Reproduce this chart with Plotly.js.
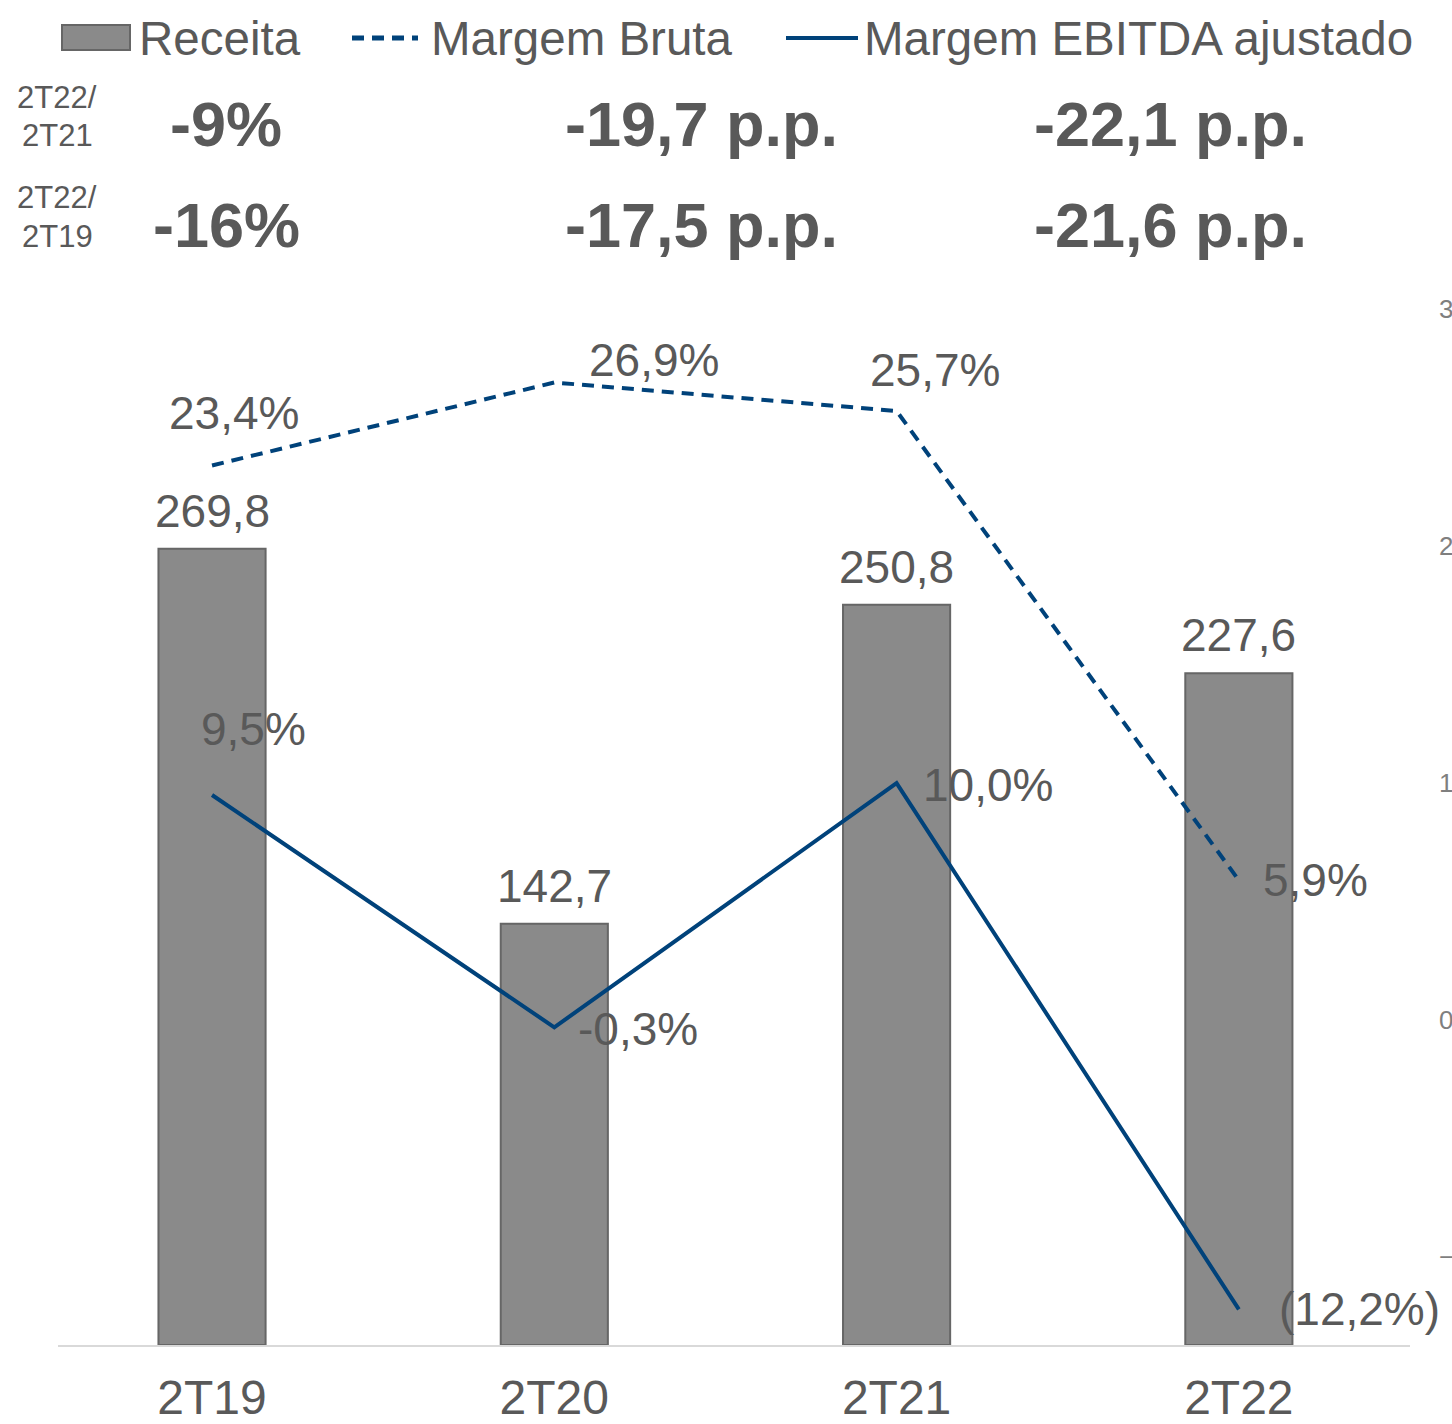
<!DOCTYPE html>
<html>
<head>
<meta charset="utf-8">
<script src="https://cdn.plot.ly/plotly-3.0.1.min.js"></script>
<style>
    html, body { margin: 0; padding: 0; background: #ffffff; }
    #chart { width: 1452px; height: 1424px; }
</style>
</head>
<body>
<div id="chart"></div>
<script>
// dados
let trimestres = ['2T19', '2T20', '2T21', '2T22'];
let receita = [269.8, 142.7, 250.8, 227.6];
let margemBruta = [23.4, 26.9, 25.7, 5.9];
let margemEbitda = [9.5, -0.3, 10.0, -12.2];
let ebitdaLabels = ['9,5%', '-0,3%', '10,0%', '(12,2%)'];

let compLabels = ['2T22/<br>2T21', '2T22/<br>2T19'];
let compReceita = ['-9%', '-16%'];
let compBruta = ['-19,7 p.p.', '-17,5 p.p.'];
let compEbitda = ['-22,1 p.p.', '-21,6 p.p.'];

const grey = '#595959';
const blue = '#00427a';
const font = 'Liberation Sans, Arial, sans-serif';

// plot area in pixels: x 58..1410, y 309..1345
const px = (p) => (p - 58) / 1352;
const py = (p) => (1345 - p) / 1036;

const fmt = (v) => v.toFixed(1).replace('.', ',');

let traces = [
    {
        x: trimestres,
        y: receita,
        name: 'Receita',
        type: 'bar',
        width: 0.313,
        marker: {color: '#8a8a8a', line: {color: '#666666', width: 2}},
        hoverinfo: 'none',
    },
    {
        x: trimestres,
        y: margemBruta,
        name: 'Margem Bruta',
        type: 'scatter',
        mode: 'lines',
        yaxis: 'y2',
        line: {color: blue, width: 4, dash: '12px,8px'},
        hoverinfo: 'none',
    },
    {
        x: trimestres,
        y: margemEbitda,
        name: 'Margem EBITDA ajustado',
        type: 'scatter',
        mode: 'lines',
        yaxis: 'y2',
        line: {color: blue, width: 4},
        hoverinfo: 'none',
    },
];

let annotations = [];

// rótulos das barras
receita.forEach((v, i) => {
    annotations.push({
        x: trimestres[i], y: v, xref: 'x', yref: 'y',
        text: fmt(v), showarrow: false,
        yanchor: 'middle', yshift: 38,
        font: {family: font, size: 46, color: grey},
    });
});

// rótulos margem bruta
let brutaShift = [[22, 52], [100, 22], [38, 41], [77, 0]];
margemBruta.forEach((v, i) => {
    annotations.push({
        x: trimestres[i], y: v, xref: 'x', yref: 'y2',
        text: fmt(v) + '%', showarrow: false,
        xshift: brutaShift[i][0], yshift: brutaShift[i][1],
        font: {family: font, size: 46, color: grey},
    });
});

// rótulos margem ebitda
let ebitdaShift = [[41, 66], [84, -2], [91, -2], [121, 0]];
margemEbitda.forEach((v, i) => {
    annotations.push({
        x: trimestres[i], y: v, xref: 'x', yref: 'y2',
        text: ebitdaLabels[i], showarrow: false,
        xshift: ebitdaShift[i][0], yshift: ebitdaShift[i][1],
        font: {family: font, size: 46, color: grey},
    });
});

// comparações no topo
let rowY = [[98, 136, 127], [198, 237, 228]];
compLabels.forEach((lbl, r) => {
    lbl.split('<br>').forEach((part, k) => {
        annotations.push({
            xref: 'paper', yref: 'paper', x: px(57), y: py(rowY[r][k]),
            text: part, showarrow: false, xanchor: 'center', yanchor: 'middle',
            font: {family: font, size: 31, color: grey},
        });
    });
    [[compReceita[r], 226], [compBruta[r], 701], [compEbitda[r], 1170]].forEach(([t, cx]) => {
        annotations.push({
            xref: 'paper', yref: 'paper', x: px(cx), y: py(rowY[r][2] - 3),
            text: '<b>' + t + '</b>', showarrow: false, xanchor: 'center', yanchor: 'middle',
            font: {family: font, size: 63, color: grey},
        });
    });
});

// legenda manual
[['Receita', 137], ['Margem Bruta', 429], ['Margem EBITDA ajustado', 862]].forEach(([t, lx]) => {
    annotations.push({
        xref: 'paper', yref: 'paper', x: px(lx), y: py(38),
        text: t, showarrow: false, xanchor: 'left', yanchor: 'middle',
        font: {family: font, size: 47.5, color: grey},
    });
});

let shapes = [
    {type: 'rect', xref: 'paper', yref: 'paper', x0: px(62), x1: px(130), y0: py(50), y1: py(25),
        fillcolor: '#8a8a8a', line: {color: '#666666', width: 2}},
    {type: 'line', xref: 'paper', yref: 'paper', x0: px(352), x1: px(418), y0: py(38), y1: py(38),
        line: {color: blue, width: 5, dash: '12px,8px'}},
    {type: 'line', xref: 'paper', yref: 'paper', x0: px(786), x1: px(858), y0: py(38), y1: py(38),
        line: {color: blue, width: 4}},
];

let layout = {
    width: 1452,
    height: 1424,
    margin: {l: 58, r: 42, t: 309, b: 79},
    paper_bgcolor: '#ffffff',
    plot_bgcolor: '#ffffff',
    showlegend: false,
    font: {family: font, color: grey},
    xaxis: {
        type: 'category',
        range: [-0.45, 3.5],
        showgrid: false,
        zeroline: false,
        showline: true,
        linecolor: '#d9d9d9',
        linewidth: 2,
        ticks: '',
        ticklabelstandoff: 9,
        tickfont: {family: font, size: 48, color: grey},
    },
    yaxis: {
        range: [0, 351],
        showgrid: false,
        zeroline: false,
        showticklabels: false,
        fixedrange: true,
    },
    yaxis2: {
        overlaying: 'y',
        side: 'right',
        range: [-13.7, 30],
        tickvals: [-10, 0, 10, 20, 30],
        ticksuffix: '%',
        ticklabelstandoff: 28,
        showgrid: false,
        zeroline: false,
        showline: false,
        tickfont: {family: font, size: 26, color: '#7f7f7f'},
    },
    annotations: annotations,
    shapes: shapes,
    bargap: 0.3,
};

Plotly.newPlot('chart', traces, layout, {displayModeBar: false, staticPlot: true});
</script>
</body>
</html>
